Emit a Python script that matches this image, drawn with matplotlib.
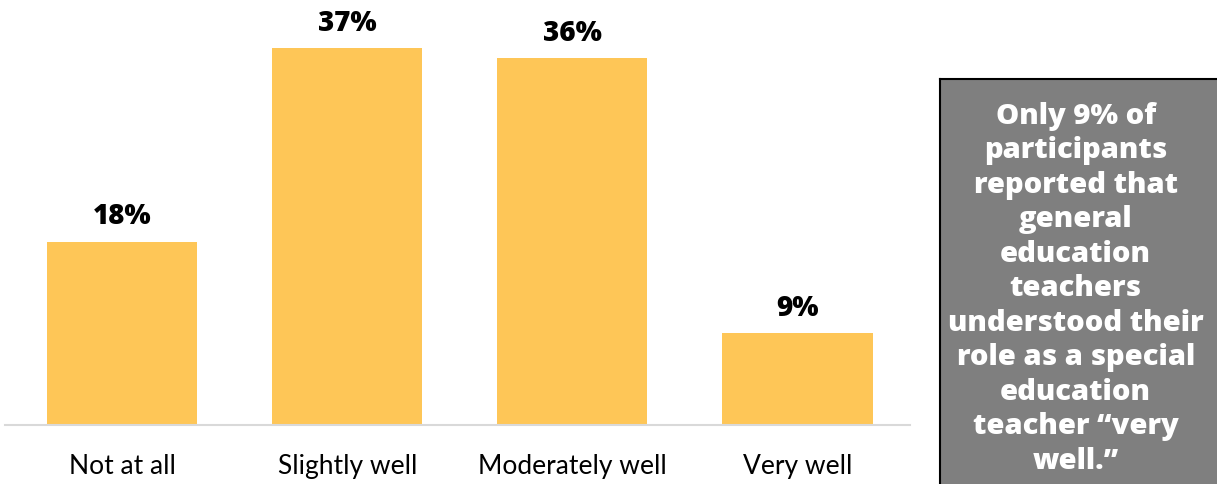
import matplotlib.pyplot as plt
import numpy as np

categories = ['Not at all', 'Slightly well', 'Moderately well', 'Very well']
values = [18, 37, 36, 9]
callout = ('Only 9% of\nparticipants\nreported that\ngeneral\neducation\nteachers\n'
           'understood their\nrole as a special\neducation\nteacher \u201cvery\nwell.\u201d')

plt.rcParams['font.family'] = ['Lato', 'DejaVu Sans']

fig = plt.figure(figsize=(12.17, 4.85), dpi=100)
ax = fig.add_axes([5 / 1217, 1 - 426 / 485, 905 / 1217, 426 / 485])

x = np.arange(len(categories))
ax.bar(x, values, width=0.667, color='#fec657')
for xi, v in zip(x, values):
    ax.text(xi, v + 1.1, f'{v}%', ha='center', va='bottom',
            fontsize=20, fontweight='heavy', family=['Open Sans', 'DejaVu Sans'],
            color='black')

ax.set_xlim(-0.52, 3.50)
ax.set_ylim(0, 41.8)
ax.set_xticks(x)
ax.set_xticklabels(categories, fontsize=19)
ax.tick_params(axis='x', length=0, pad=20)
ax.set_yticks([])
for side in ['top', 'right', 'left']:
    ax.spines[side].set_visible(False)
ax.spines['bottom'].set_color('#d9d9d9')
ax.spines['bottom'].set_linewidth(1.5)

# callout box on the right
box = fig.add_axes([940 / 1217, 0, 277 / 1217, 405 / 485])
box.set_xlim(0, 1)
box.set_ylim(0, 1)
box.set_xticks([])
box.set_yticks([])
box.set_facecolor('#7f7f7f')
for side in ['right', 'bottom']:
    box.spines[side].set_visible(False)
for side in ['top', 'left']:
    box.spines[side].set_color('black')
    box.spines[side].set_linewidth(1.5)
box.text(0.49, 0.485, callout, ha='center', va='center', color='white',
         fontsize=21, fontweight='heavy', family=['Open Sans', 'DejaVu Sans'],
         linespacing=1.25)

fig.savefig('out.png', dpi=100)
